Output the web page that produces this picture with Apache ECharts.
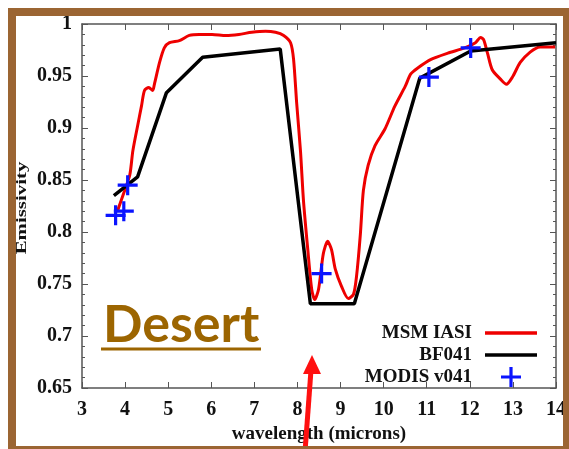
<!DOCTYPE html>
<html style="height: 100%">
<head>
<meta charset="utf-8">
<script src="https://cdn.jsdelivr.net/npm/echarts@6/dist/echarts.min.js"></script>
</head>
<body style="height: 100%; margin: 0; background: #fff">
<div id="container" style="width: 569px; height: 449px;"></div>
<script type="text/javascript">
// MSM IASI (red)
var msmX = [3.83, 3.99, 4.11, 4.18, 4.29, 4.38, 4.45, 4.55, 4.64, 4.68, 4.80, 4.91, 5.03, 5.26, 5.49, 5.72,
    6.02, 6.34, 6.64, 6.94, 7.26, 7.49, 7.68, 7.84, 7.91, 7.98, 8.07, 8.14, 8.24, 8.33, 8.40, 8.49,
    8.60, 8.70, 8.79, 8.88, 9.02, 9.18, 9.30, 9.37, 9.46, 9.53, 9.64, 9.80, 10.03, 10.26, 10.50, 10.63,
    10.80, 11.10, 11.49, 11.88, 12.13, 12.25, 12.32, 12.41, 12.52, 12.71, 12.85, 12.99, 13.17, 13.40,
    13.63, 13.79, 13.98];
var msmY = [0.821, 0.840, 0.855, 0.878, 0.902, 0.921, 0.936, 0.939, 0.936, 0.942, 0.963, 0.977, 0.982, 0.984, 0.989, 0.990,
    0.990, 0.989, 0.990, 0.992, 0.993, 0.992, 0.989, 0.982, 0.966, 0.925, 0.878, 0.830, 0.783, 0.745, 0.735, 0.745,
    0.779, 0.791, 0.783, 0.764, 0.748, 0.736, 0.740, 0.757, 0.798, 0.840, 0.864, 0.883, 0.899, 0.921, 0.940, 0.952,
    0.958, 0.966, 0.972, 0.977, 0.982, 0.987, 0.985, 0.972, 0.956, 0.947, 0.942, 0.949, 0.963, 0.973,
    0.978, 0.978, 0.978];
// BF041 (black)
var bfX = [3.74, 4.29, 4.96, 5.80, 7.60, 8.30, 9.32, 10.84, 12.02, 14.0];
var bfY = [0.835, 0.853, 0.934, 0.968, 0.976, 0.731, 0.731, 0.948, 0.974, 0.982];
// MODIS v041 (blue crosses)
var modisX = [3.78, 3.97, 4.06, 8.56, 11.05, 12.02];
var modisY = [0.816, 0.820, 0.845, 0.760, 0.949, 0.977];

var xTicks = { min: 3, max: 14, step: 1 };
var yTicks = { min: 0.65, max: 1, step: 0.05 };

function pairs(xs, ys) {
    return xs.map(function (x, i) { return [x, ys[i]]; });
}

var serif = 'Liberation Serif';
var axisColor = '#555';
var plus = 'path://M-1.6,-10 L1.6,-10 L1.6,-1.6 L10,-1.6 L10,1.6 L1.6,1.6 L1.6,10 L-1.6,10 L-1.6,1.6 L-10,1.6 L-10,-1.6 L-1.6,-1.6 Z';
var bar = 'path://M0,0 L52,0 L52,3.5 L0,3.5 Z';

var dom = document.getElementById('container');
var myChart = echarts.init(dom);

function xAxisOf(pos, show) {
    return {
        type: 'value', position: pos, min: xTicks.min, max: xTicks.max, interval: xTicks.step,
        axisLine: { show: true, onZero: false, lineStyle: { color: axisColor, width: 1.5 } },
        axisTick: { show: true, inside: true, length: 6, lineStyle: { color: axisColor, width: 1 } },
        axisLabel: { show: show, margin: 12, color: '#111', fontFamily: serif, fontWeight: 'bold', fontSize: 20 },
        splitLine: { show: false },
        name: show ? 'wavelength (microns)' : '',
        nameLocation: 'middle', nameGap: 37,
        nameTextStyle: { color: '#111', fontFamily: serif, fontWeight: 'bold', fontSize: 19 }
    };
}
function yAxisOf(pos, show) {
    return {
        type: 'value', position: pos, min: yTicks.min, max: yTicks.max, interval: yTicks.step,
        axisLine: { show: true, onZero: false, lineStyle: { color: axisColor, width: 1.5 } },
        axisTick: { show: true, inside: true, length: 6, lineStyle: { color: axisColor, width: 1 } },
        minorTick: { show: true, splitNumber: 5, length: 3, lineStyle: { color: axisColor, width: 1 } },
        axisLabel: { show: show, margin: 10, color: '#111', fontFamily: serif, fontWeight: 'bold', fontSize: 20 },
        splitLine: { show: false }
    };
}

var option = {
    animation: false,
    backgroundColor: '#fff',
    grid: { left: 82, right: 10, top: 24, bottom: 56, containLabel: false },
    xAxis: [xAxisOf('bottom', true), xAxisOf('top', false)],
    yAxis: [yAxisOf('left', true), yAxisOf('right', false)],
    legend: {
        orient: 'vertical', align: 'right', right: 32, top: 323, padding: 0,
        itemWidth: 52, itemHeight: 20, itemGap: 2,
        textStyle: { color: '#111', fontFamily: serif, fontWeight: 'bold', fontSize: 19, lineHeight: 20, padding: [0, 8, 0, 0] },
        data: [
            { name: 'MSM IASI', icon: bar },
            { name: 'BF041', icon: bar },
            { name: 'MODIS v041', icon: plus }
        ]
    },
    graphic: [
        { type: 'rect', shape: { x: 12, y: 12, width: 555, height: 438 }, style: { fill: null, stroke: '#9b6533', lineWidth: 8 }, z: 100 },
        { type: 'text', x: 22, y: 208, rotation: Math.PI / 2, scaleX: 1.39,
          style: { text: 'Emissivity', fill: '#111', font: 'bold 15px "Liberation Serif"', align: 'center', verticalAlign: 'middle' } },
        { type: 'text', x: 103, y: 325,
          style: { text: 'Desert', fill: '#9c6500', font: 'bold 52px Lato', align: 'left', verticalAlign: 'middle' } },
        { type: 'line', shape: { x1: 101, y1: 349, x2: 261, y2: 349 }, style: { stroke: '#9c6500', lineWidth: 3 } },
        { type: 'polyline', shape: { points: [[305, 452], [311, 370]] }, style: { stroke: '#ff1010', lineWidth: 5 }, z: 90 },
        { type: 'polygon', shape: { points: [[312, 355], [303, 374], [321, 374]] }, style: { fill: '#ff1010' }, z: 90 }
    ],
    series: [
        {
            name: 'MSM IASI', type: 'line', data: pairs(msmX, msmY), smooth: 0.25,
            symbol: 'none', color: '#ee0000', lineStyle: { color: '#ee0000', width: 3 }, z: 2
        },
        {
            name: 'BF041', type: 'line', data: pairs(bfX, bfY),
            symbol: 'none', color: '#000', lineStyle: { color: '#000', width: 3.5 }, z: 3
        },
        {
            name: 'MODIS v041', type: 'scatter', data: pairs(modisX, modisY),
            symbol: plus, symbolSize: 20, itemStyle: { color: '#0a14ff', opacity: 1 }, z: 4
        }
    ]
};
myChart.setOption(option);
</script>
</body>
</html>
